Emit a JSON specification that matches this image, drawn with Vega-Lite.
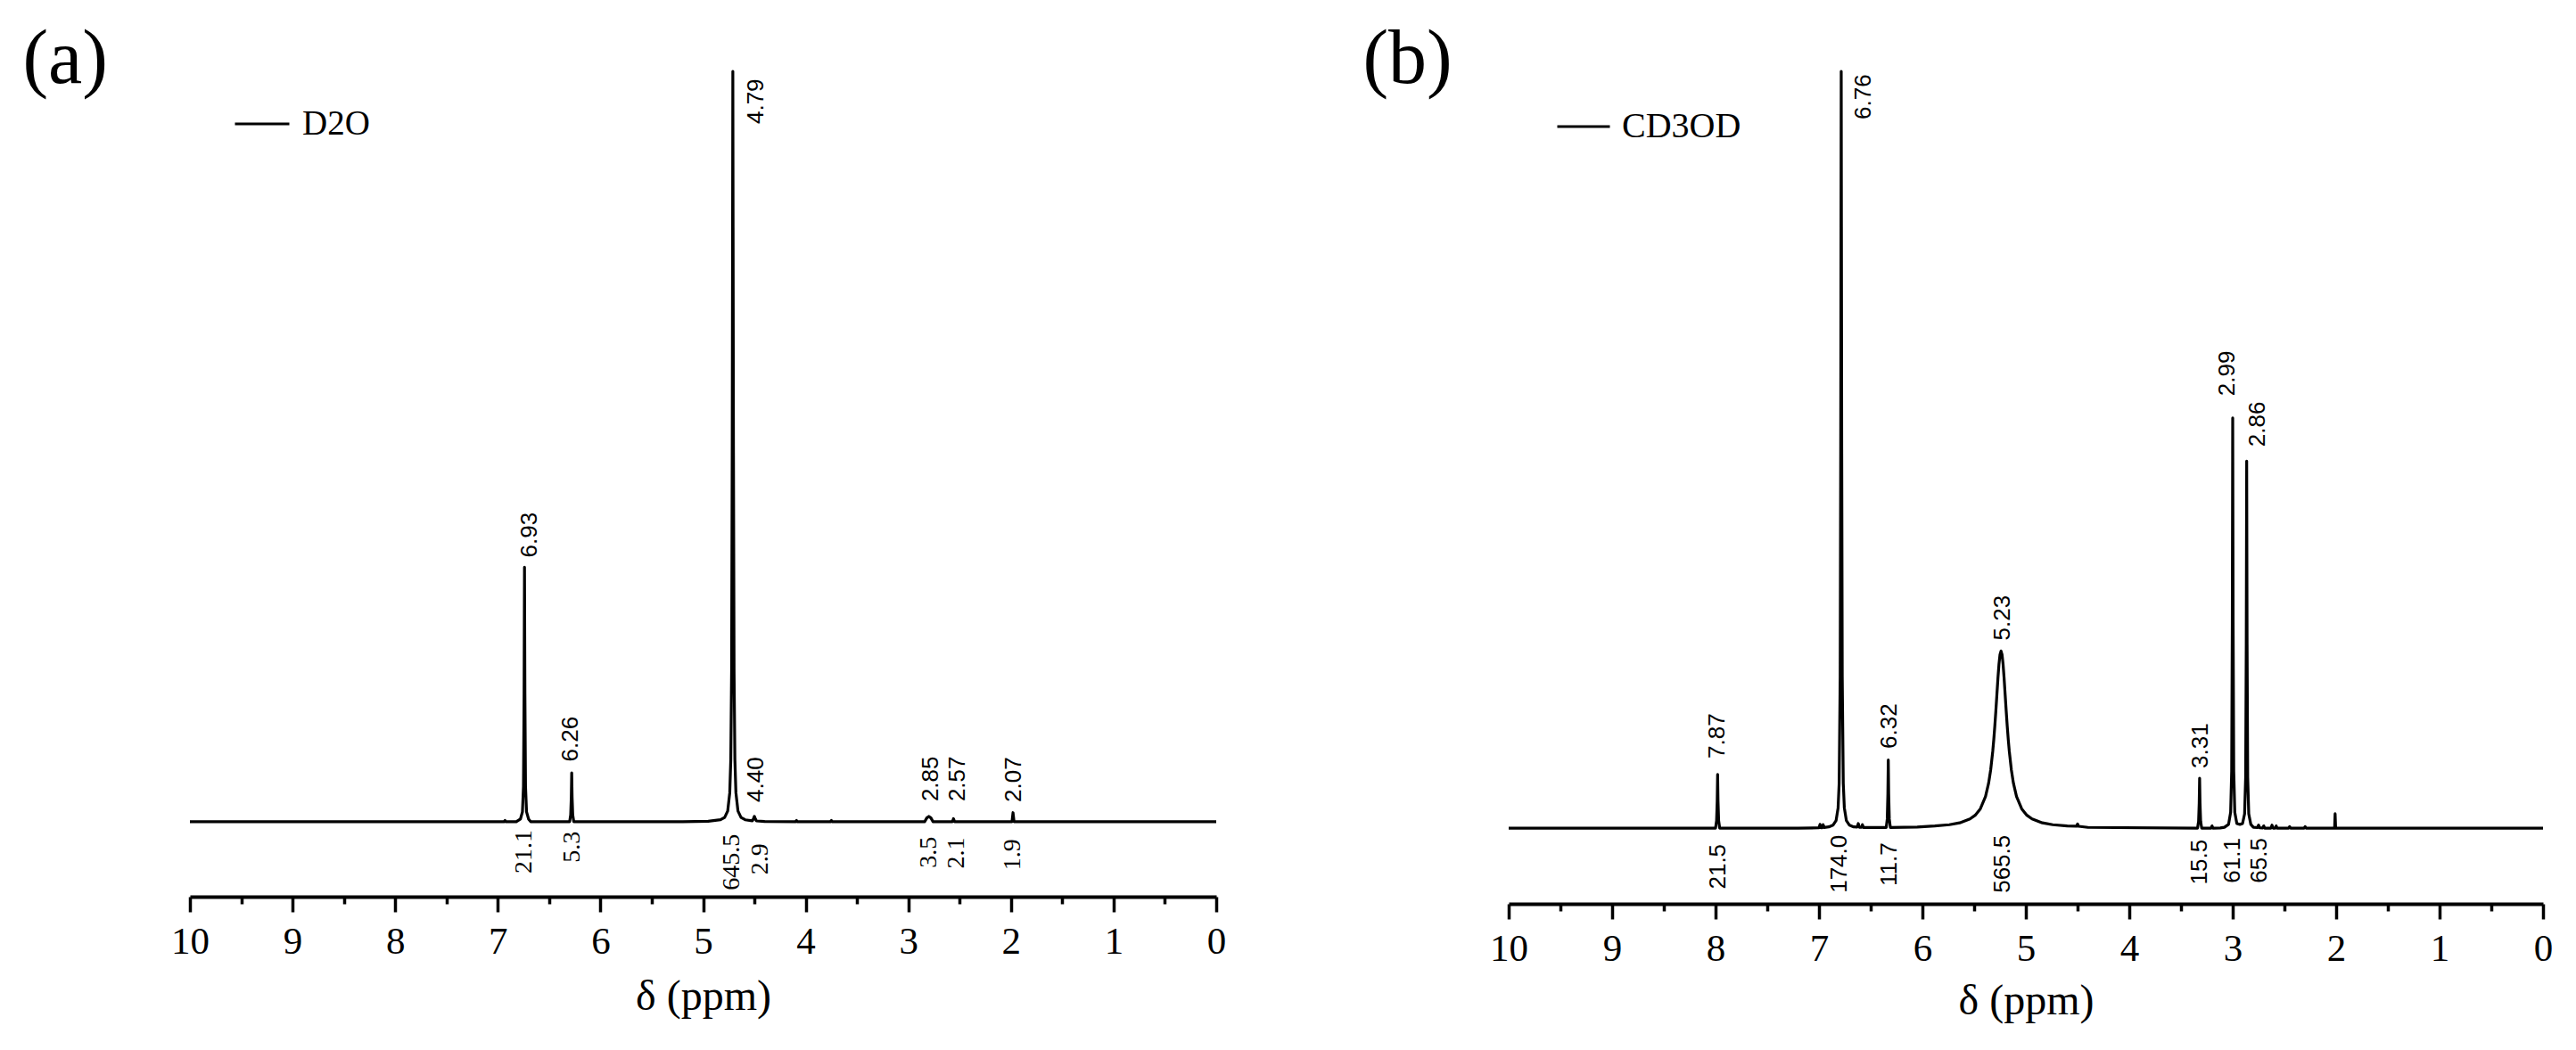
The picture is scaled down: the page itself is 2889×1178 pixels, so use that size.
{
  "$schema": "https://vega.github.io/schema/vega-lite/v6.json",
  "background": "white",
  "padding": {"left": 25, "top": 23, "right": 5, "bottom": 5},
  "bounds": "flush",
  "spacing": 328,
  "config": {
    "view": {"stroke": null},
    "axis": {"labelFont": "Liberation Serif", "titleFont": "Liberation Serif", "labelColor": "black", "titleColor": "black", "titleFontWeight": "normal", "grid": false},
    "style": {"guide-label": {"font": "Liberation Serif"}, "guide-title": {"font": "Liberation Serif"}}
  },
  "datasets": {
    "specA": [
      {"ppm":0,"intensity":0},{"ppm":1.97,"intensity":0},{"ppm":1.98,"intensity":1.2},{"ppm":1.99,"intensity":0},
      {"ppm":2.55,"intensity":0},{"ppm":2.56,"intensity":0.4},{"ppm":2.57,"intensity":0},
      {"ppm":2.76,"intensity":0},{"ppm":2.78,"intensity":0.5},{"ppm":2.8,"intensity":0.7},{"ppm":2.82,"intensity":0.5},{"ppm":2.84,"intensity":0},
      {"ppm":3.74,"intensity":0},{"ppm":3.75,"intensity":0.15},{"ppm":3.76,"intensity":0},
      {"ppm":4.08,"intensity":0},{"ppm":4.09,"intensity":0.15},{"ppm":4.1,"intensity":0},
      {"ppm":4.4,"intensity":0.03},{"ppm":4.48,"intensity":0.1},{"ppm":4.49,"intensity":0.35},{"ppm":4.5,"intensity":0.7},{"ppm":4.51,"intensity":0.35},{"ppm":4.52,"intensity":0.12},
      {"ppm":4.59,"intensity":0.25},{"ppm":4.63,"intensity":0.56},{"ppm":4.66,"intensity":1.42},{"ppm":4.68,"intensity":3.85},{"ppm":4.69,"intensity":8.26},{"ppm":4.698,"intensity":20},{"ppm":4.704,"intensity":50},{"ppm":4.71,"intensity":100},{"ppm":4.716,"intensity":50},{"ppm":4.722,"intensity":20},{"ppm":4.73,"intensity":8.26},{"ppm":4.74,"intensity":3.85},{"ppm":4.76,"intensity":1.42},{"ppm":4.79,"intensity":0.56},{"ppm":4.83,"intensity":0.25},{"ppm":4.95,"intensity":0.06},{"ppm":5.2,"intensity":0},
      {"ppm":6.26,"intensity":0},{"ppm":6.27,"intensity":0.9},{"ppm":6.276,"intensity":3.25},{"ppm":6.28,"intensity":6.5},{"ppm":6.284,"intensity":3.25},{"ppm":6.29,"intensity":0.9},{"ppm":6.3,"intensity":0},
      {"ppm":6.68,"intensity":0},{"ppm":6.7,"intensity":0.34},{"ppm":6.72,"intensity":1.3},{"ppm":6.73,"intensity":4.7},{"ppm":6.736,"intensity":17},{"ppm":6.74,"intensity":33.9},{"ppm":6.744,"intensity":17},{"ppm":6.75,"intensity":4.7},{"ppm":6.76,"intensity":1.3},{"ppm":6.78,"intensity":0.34},{"ppm":6.82,"intensity":0},
      {"ppm":6.92,"intensity":0},{"ppm":6.93,"intensity":0.15},{"ppm":6.94,"intensity":0},{"ppm":10,"intensity":0}
    ],
    "specB": [
      {"ppm":0,"intensity":0},{"ppm":2.005,"intensity":0},{"ppm":2.01,"intensity":1.9},{"ppm":2.015,"intensity":0},
      {"ppm":2.29,"intensity":0},{"ppm":2.3,"intensity":0.2},{"ppm":2.31,"intensity":0},
      {"ppm":2.44,"intensity":0},{"ppm":2.45,"intensity":0.2},{"ppm":2.46,"intensity":0},
      {"ppm":2.57,"intensity":0},{"ppm":2.58,"intensity":0.3},{"ppm":2.59,"intensity":0},
      {"ppm":2.61,"intensity":0},{"ppm":2.62,"intensity":0.4},{"ppm":2.63,"intensity":0},
      {"ppm":2.69,"intensity":0},{"ppm":2.7,"intensity":0.3},{"ppm":2.71,"intensity":0.02},
      {"ppm":2.74,"intensity":0.05},{"ppm":2.75,"intensity":0.4},{"ppm":2.76,"intensity":0.08},
      {"ppm":2.8,"intensity":0.12},{"ppm":2.825,"intensity":0.5},{"ppm":2.845,"intensity":1.9},{"ppm":2.855,"intensity":6.7},{"ppm":2.861,"intensity":24.3},{"ppm":2.865,"intensity":48.5},{"ppm":2.869,"intensity":24.3},{"ppm":2.875,"intensity":6.7},{"ppm":2.885,"intensity":1.9},{"ppm":2.905,"intensity":0.6},
      {"ppm":2.93,"intensity":0.5},{"ppm":2.96,"intensity":0.6},{"ppm":2.98,"intensity":2.1},{"ppm":2.99,"intensity":7.5},{"ppm":2.996,"intensity":27.1},{"ppm":3.0,"intensity":54.2},{"ppm":3.004,"intensity":27.1},{"ppm":3.01,"intensity":7.5},{"ppm":3.02,"intensity":2.1},{"ppm":3.04,"intensity":0.5},{"ppm":3.08,"intensity":0.12},{"ppm":3.12,"intensity":0.03},
      {"ppm":3.19,"intensity":0},{"ppm":3.2,"intensity":0.3},{"ppm":3.21,"intensity":0},
      {"ppm":3.3,"intensity":0},{"ppm":3.31,"intensity":0.9},{"ppm":3.316,"intensity":3.3},{"ppm":3.32,"intensity":6.6},{"ppm":3.324,"intensity":3.3},{"ppm":3.33,"intensity":0.9},{"ppm":3.34,"intensity":0},
      {"ppm":4.4,"intensity":0.1},{"ppm":4.49,"intensity":0.25},{"ppm":4.5,"intensity":0.55},{"ppm":4.51,"intensity":0.25},
      {"ppm":4.6,"intensity":0.28},{"ppm":4.74,"intensity":0.45},{"ppm":4.84,"intensity":0.7},{"ppm":4.94,"intensity":1.21},{"ppm":4.99,"intensity":1.7},{"ppm":5.04,"intensity":2.55},{"ppm":5.09,"intensity":4.18},{"ppm":5.12,"intensity":5.94},{"ppm":5.14,"intensity":7.69},{"ppm":5.16,"intensity":10.15},{"ppm":5.17,"intensity":11.7},{"ppm":5.18,"intensity":13.49},{"ppm":5.19,"intensity":15.49},{"ppm":5.2,"intensity":17.64},{"ppm":5.21,"intensity":19.77},{"ppm":5.22,"intensity":21.63},{"ppm":5.23,"intensity":22.93},{"ppm":5.24,"intensity":23.4},{"ppm":5.25,"intensity":22.93},{"ppm":5.26,"intensity":21.63},{"ppm":5.27,"intensity":19.77},{"ppm":5.28,"intensity":17.64},{"ppm":5.29,"intensity":15.49},{"ppm":5.3,"intensity":13.49},{"ppm":5.31,"intensity":11.7},{"ppm":5.32,"intensity":10.15},{"ppm":5.34,"intensity":7.69},{"ppm":5.36,"intensity":5.94},{"ppm":5.39,"intensity":4.18},{"ppm":5.44,"intensity":2.55},{"ppm":5.49,"intensity":1.7},{"ppm":5.54,"intensity":1.21},{"ppm":5.64,"intensity":0.7},{"ppm":5.74,"intensity":0.45},{"ppm":5.88,"intensity":0.28},
      {"ppm":6.05,"intensity":0.15},{"ppm":6.31,"intensity":0.08},{"ppm":6.32,"intensity":1.2},{"ppm":6.326,"intensity":4.5},{"ppm":6.33,"intensity":9.0},{"ppm":6.334,"intensity":4.5},{"ppm":6.34,"intensity":1.2},{"ppm":6.35,"intensity":0.08},
      {"ppm":6.57,"intensity":0.08},{"ppm":6.58,"intensity":0.45},{"ppm":6.59,"intensity":0.1},{"ppm":6.61,"intensity":0.12},{"ppm":6.62,"intensity":0.6},{"ppm":6.63,"intensity":0.14},
      {"ppm":6.665,"intensity":0.17},{"ppm":6.705,"intensity":0.39},{"ppm":6.735,"intensity":0.99},{"ppm":6.755,"intensity":2.7},{"ppm":6.765,"intensity":5.9},{"ppm":6.775,"intensity":20},{"ppm":6.78,"intensity":50},{"ppm":6.785,"intensity":100},{"ppm":6.79,"intensity":50},{"ppm":6.795,"intensity":20},{"ppm":6.805,"intensity":5.9},{"ppm":6.815,"intensity":2.7},{"ppm":6.835,"intensity":0.99},{"ppm":6.865,"intensity":0.39},{"ppm":6.905,"intensity":0.17},
      {"ppm":6.95,"intensity":0.08},{"ppm":6.96,"intensity":0.45},{"ppm":6.97,"intensity":0.05},{"ppm":6.98,"intensity":0.05},{"ppm":6.99,"intensity":0.5},{"ppm":7.0,"intensity":0.04},{"ppm":7.2,"intensity":0},
      {"ppm":7.96,"intensity":0},{"ppm":7.97,"intensity":1.0},{"ppm":7.976,"intensity":3.55},{"ppm":7.98,"intensity":7.1},{"ppm":7.984,"intensity":3.55},{"ppm":7.99,"intensity":1.0},{"ppm":8.0,"intensity":0},{"ppm":10,"intensity":0}
    ],
    "labelsA": [
      {"ppm":6.69,"y":35.2,"label":"6.93","kind":"shift"},
      {"ppm":6.29,"y":8.0,"label":"6.26","kind":"shift"},
      {"ppm":4.48,"y":2.6,"label":"4.40","kind":"shift"},
      {"ppm":2.78,"y":2.7,"label":"2.85","kind":"shift"},
      {"ppm":2.52,"y":2.7,"label":"2.57","kind":"shift"},
      {"ppm":1.97,"y":2.6,"label":"2.07","kind":"shift"},
      {"ppm":4.48,"y":99.0,"label":"4.79","kind":"top"},
      {"ppm":6.74,"y":-1.1,"label":"21.1","kind":"integral"},
      {"ppm":6.27,"y":-1.3,"label":"5.3","kind":"integral"},
      {"ppm":4.72,"y":-1.65,"label":"645.5","kind":"integral"},
      {"ppm":4.44,"y":-2.9,"label":"2.9","kind":"integral"},
      {"ppm":2.8,"y":-2.0,"label":"3.5","kind":"integral"},
      {"ppm":2.53,"y":-2.1,"label":"2.1","kind":"integral"},
      {"ppm":1.98,"y":-2.3,"label":"1.9","kind":"integral"},
      {"ppm":11.63,"y":98.46,"label":"(a)","kind":"panel"}
    ],
    "labelsB": [
      {"ppm":7.98,"y":9.2,"label":"7.87","kind":"shift"},
      {"ppm":6.32,"y":10.5,"label":"6.32","kind":"shift"},
      {"ppm":5.22,"y":24.8,"label":"5.23","kind":"shift"},
      {"ppm":3.31,"y":7.9,"label":"3.31","kind":"shift"},
      {"ppm":3.05,"y":57.1,"label":"2.99","kind":"shift"},
      {"ppm":2.76,"y":50.4,"label":"2.86","kind":"shift"},
      {"ppm":6.57,"y":99.6,"label":"6.76","kind":"top"},
      {"ppm":7.97,"y":-2.1,"label":"21.5","kind":"integral"},
      {"ppm":6.8,"y":-0.9,"label":"174.0","kind":"integral"},
      {"ppm":6.32,"y":-1.9,"label":"11.7","kind":"integral"},
      {"ppm":5.22,"y":-0.9,"label":"565.5","kind":"integral"},
      {"ppm":3.32,"y":-1.5,"label":"15.5","kind":"integral"},
      {"ppm":3.0,"y":-1.3,"label":"61.1","kind":"integral"},
      {"ppm":2.74,"y":-1.3,"label":"65.5","kind":"integral"},
      {"ppm":11.41,"y":98.5,"label":"(b)","kind":"panel"}
    ]
  },
  "hconcat": [
    {
      "width": 1151,
      "height": 926,
      "resolve": {"axis": {"x": "independent"}},
      "layer": [
        {
          "data": {"name": "specA"},
          "mark": {"type": "line", "strokeWidth": 3.2, "strokeJoin": "round"},
          "encoding": {
            "x": {"field": "ppm", "type": "quantitative",
              "scale": {"domain": [0, 10], "reverse": true, "nice": false, "zero": false},
              "axis": {"values": [0,1,2,3,4,5,6,7,8,9,10], "format": "d", "title": "δ (ppm)", "tickSize": 17, "tickWidth": 3.5, "tickColor": "black", "domainColor": "black", "domainWidth": 4, "labelFont": "Liberation Serif", "labelFontSize": 43, "labelColor": "black", "labelPadding": 12, "labelFlush": false, "labelOverlap": false, "titleFont": "Liberation Serif", "titleFontSize": 48, "titleFontWeight": "normal", "titleColor": "black", "titleY": 126, "titleBaseline": "alphabetic", "grid": false}},
            "y": {"field": "intensity", "type": "quantitative", "scale": {"domain": [-10, 100], "nice": false, "zero": false}, "axis": null},
            "color": {"datum": "D2O", "scale": {"range": ["black"]},
              "legend": {"orient": "none", "legendX": 49, "legendY": 27, "title": null, "symbolType": "stroke", "symbolSize": 3721, "symbolStrokeWidth": 3, "symbolStrokeColor": "black", "labelFont": "Liberation Serif", "labelFontSize": 39, "labelColor": "black", "labelOffset": 13, "padding": 0}}
          }
        },
        {
          "data": {"name": "labelsA"},
          "transform": [{"filter": "datum.kind === 'shift'"}],
          "mark": {"type": "text", "angle": 270, "align": "left", "baseline": "middle", "font": "Liberation Sans", "fontSize": 26, "color": "black"},
          "encoding": {
            "x": {"field": "ppm", "type": "quantitative", "axis": {"orient": "bottom", "values": [0.5,1.5,2.5,3.5,4.5,5.5,6.5,7.5,8.5,9.5], "labels": false, "domain": false, "grid": false, "title": null, "tickSize": 8, "tickWidth": 3.5, "tickColor": "black"}},
            "y": {"field": "y", "type": "quantitative", "axis": null},
            "text": {"field": "label"}
          }
        },
        {
          "data": {"name": "labelsA"},
          "transform": [{"filter": "datum.kind === 'top'"}],
          "mark": {"type": "text", "angle": 270, "align": "right", "baseline": "middle", "font": "Liberation Sans", "fontSize": 26, "color": "black"},
          "encoding": {
            "x": {"field": "ppm", "type": "quantitative", "axis": null},
            "y": {"field": "y", "type": "quantitative", "axis": null},
            "text": {"field": "label"}
          }
        },
        {
          "data": {"name": "labelsA"},
          "transform": [{"filter": "datum.kind === 'integral'"}],
          "mark": {"type": "text", "angle": 270, "align": "right", "baseline": "middle", "font": "Liberation Serif", "fontSize": 28, "color": "black"},
          "encoding": {
            "x": {"field": "ppm", "type": "quantitative", "axis": null},
            "y": {"field": "y", "type": "quantitative", "axis": null},
            "text": {"field": "label"}
          }
        },
        {
          "data": {"name": "labelsA"},
          "transform": [{"filter": "datum.kind === 'panel'"}],
          "mark": {"type": "text", "align": "left", "baseline": "alphabetic", "font": "Liberation Serif", "fontSize": 86, "color": "black"},
          "encoding": {
            "x": {"field": "ppm", "type": "quantitative", "axis": null},
            "y": {"field": "y", "type": "quantitative", "axis": null},
            "text": {"field": "label"}
          }
        }
      ]
    },
    {
      "width": 1160,
      "height": 934,
      "resolve": {"axis": {"x": "independent"}},
      "layer": [
        {
          "data": {"name": "specB"},
          "mark": {"type": "line", "strokeWidth": 3.2, "strokeJoin": "round"},
          "encoding": {
            "x": {"field": "ppm", "type": "quantitative",
              "scale": {"domain": [0, 10], "reverse": true, "nice": false, "zero": false},
              "axis": {"values": [0,1,2,3,4,5,6,7,8,9,10], "format": "d", "title": "δ (ppm)", "tickSize": 17, "tickWidth": 3.5, "tickColor": "black", "domainColor": "black", "domainWidth": 4, "labelFont": "Liberation Serif", "labelFontSize": 43, "labelColor": "black", "labelPadding": 12, "labelFlush": false, "labelOverlap": false, "titleFont": "Liberation Serif", "titleFontSize": 48, "titleFontWeight": "normal", "titleColor": "black", "titleY": 123, "titleBaseline": "alphabetic", "grid": false}},
            "y": {"field": "intensity", "type": "quantitative", "scale": {"domain": [-10, 100], "nice": false, "zero": false}, "axis": null},
            "color": {"datum": "CD3OD", "scale": {"range": ["black"]},
              "legend": {"orient": "none", "legendX": 53, "legendY": 31, "title": null, "symbolType": "stroke", "symbolSize": 3481, "symbolStrokeWidth": 3, "symbolStrokeColor": "black", "labelFont": "Liberation Serif", "labelFontSize": 40, "labelColor": "black", "labelOffset": 12, "padding": 0}}
          }
        },
        {
          "data": {"name": "labelsB"},
          "transform": [{"filter": "datum.kind === 'shift'"}],
          "mark": {"type": "text", "angle": 270, "align": "left", "baseline": "middle", "font": "Liberation Sans", "fontSize": 26, "color": "black"},
          "encoding": {
            "x": {"field": "ppm", "type": "quantitative", "axis": {"orient": "bottom", "values": [0.5,1.5,2.5,3.5,4.5,5.5,6.5,7.5,8.5,9.5], "labels": false, "domain": false, "grid": false, "title": null, "tickSize": 8, "tickWidth": 3.5, "tickColor": "black"}},
            "y": {"field": "y", "type": "quantitative", "axis": null},
            "text": {"field": "label"}
          }
        },
        {
          "data": {"name": "labelsB"},
          "transform": [{"filter": "datum.kind === 'top'"}],
          "mark": {"type": "text", "angle": 270, "align": "right", "baseline": "middle", "font": "Liberation Sans", "fontSize": 26, "color": "black"},
          "encoding": {
            "x": {"field": "ppm", "type": "quantitative", "axis": null},
            "y": {"field": "y", "type": "quantitative", "axis": null},
            "text": {"field": "label"}
          }
        },
        {
          "data": {"name": "labelsB"},
          "transform": [{"filter": "datum.kind === 'integral'"}],
          "mark": {"type": "text", "angle": 270, "align": "right", "baseline": "middle", "font": "Liberation Sans", "fontSize": 26, "color": "black"},
          "encoding": {
            "x": {"field": "ppm", "type": "quantitative", "axis": null},
            "y": {"field": "y", "type": "quantitative", "axis": null},
            "text": {"field": "label"}
          }
        },
        {
          "data": {"name": "labelsB"},
          "transform": [{"filter": "datum.kind === 'panel'"}],
          "mark": {"type": "text", "align": "left", "baseline": "alphabetic", "font": "Liberation Serif", "fontSize": 86, "color": "black"},
          "encoding": {
            "x": {"field": "ppm", "type": "quantitative", "axis": null},
            "y": {"field": "y", "type": "quantitative", "axis": null},
            "text": {"field": "label"}
          }
        }
      ]
    }
  ],
  "resolve": {"scale": {"color": "independent", "x": "independent", "y": "independent"}, "legend": {"color": "independent"}}
}
